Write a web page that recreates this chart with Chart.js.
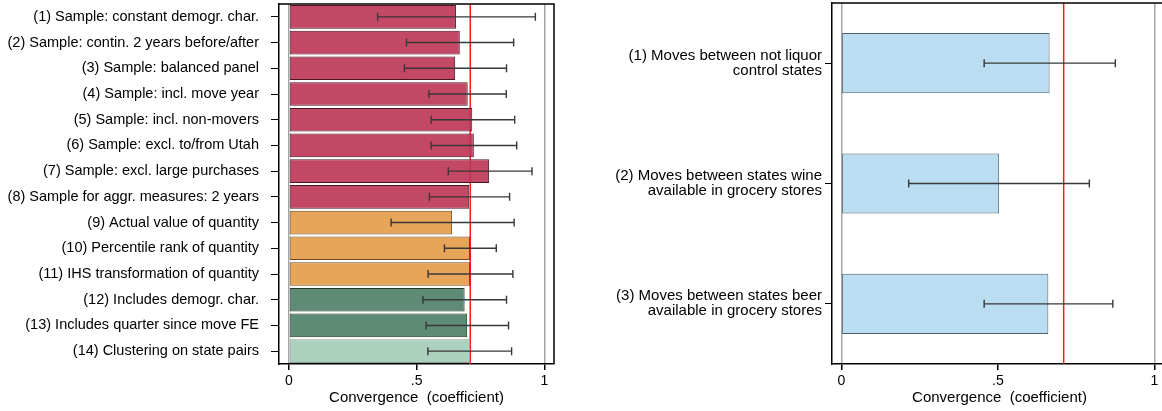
<!DOCTYPE html>
<html>
<head>
<meta charset="utf-8">
<script src="https://cdn.jsdelivr.net/npm/chart.js@4"></script>
<style>
  html, body { margin: 0; padding: 0; background: #fff; overflow: hidden; width: 1162px; height: 411px; }
  #left { position: absolute; left: 0; top: 0; }
  #right { position: absolute; left: 560px; top: 0; }
</style>
</head>
<body>
<canvas id="left" width="565" height="411"></canvas>
<canvas id="right" width="607" height="411"></canvas>
<script>
// robustness checks, left panel
const leftLabels = [
  '(1) Sample: constant demogr. char.',
  '(2) Sample: contin. 2 years before/after',
  '(3) Sample: balanced panel',
  '(4) Sample: incl. move year',
  '(5) Sample: incl. non-movers',
  '(6) Sample: excl. to/from Utah',
  '(7) Sample: excl. large purchases',
  '(8) Sample for aggr. measures: 2 years',
  '(9) Actual value of quantity',
  '(10) Percentile rank of quantity',
  '(11) IHS transformation of quantity',
  '(12) Includes demogr. char.',
  '(13) Includes quarter since move FE',
  '(14) Clustering on state pairs'
];
const leftCoef = [0.654, 0.669, 0.651, 0.700, 0.718, 0.724, 0.784, 0.706, 0.639, 0.709, 0.709, 0.688, 0.698, 0.707];
const leftLo   = [0.347, 0.460, 0.452, 0.548, 0.557, 0.557, 0.624, 0.550, 0.400, 0.609, 0.545, 0.525, 0.537, 0.544];
const leftHi   = [0.965, 0.880, 0.852, 0.851, 0.884, 0.892, 0.952, 0.864, 0.882, 0.812, 0.877, 0.852, 0.860, 0.872];
const leftGroup = ['s', 's', 's', 's', 's', 's', 's', 's', 'q', 'q', 'q', 'c', 'c', 'e'];

// heterogeneity by state policy, right panel
const rightLabels = [
  ['(1) Moves between not liquor', 'control states'],
  ['(2) Moves between states wine', 'available in grocery stores'],
  ['(3) Moves between states beer', 'available in grocery stores']
];
const rightCoef = [0.665, 0.504, 0.661];
const rightLo   = [0.456, 0.215, 0.456];
const rightHi   = [0.875, 0.792, 0.867];

const benchmark = 0.71;
const xTicks = [0, 0.5, 1];

const groupFill = { s: 'rgba(188,52,84,0.9)', q: 'rgba(230,160,80,0.95)', c: 'rgba(82,130,108,0.93)', e: 'rgba(170,205,188,0.97)' };
const groupLine = { s: '#4a1624', q: '#6b4a1e', c: '#27392f', e: '#8a9a92' };

Chart.defaults.font.family = '"Liberation Sans", Arial, Helvetica, sans-serif';
Chart.defaults.font.size = 13;
Chart.defaults.color = '#000';

const stataPlugin = {
  id: 'stata',
  beforeDatasetsDraw(chart, args, opts) {
    const { ctx, chartArea: a, scales } = chart;
    const x = scales.x.getPixelForValue(opts.benchmark);
    ctx.save();
    ctx.strokeStyle = '#ff1a1a';
    ctx.lineWidth = 1.5;
    ctx.beginPath();
    ctx.moveTo(x, a.top);
    ctx.lineTo(x, a.bottom);
    ctx.stroke();
    ctx.restore();
  },
  afterDatasetsDraw(chart, args, opts) {
    const { ctx, chartArea: a, scales } = chart;
    ctx.save();
    ctx.strokeStyle = '#383838';
    ctx.lineWidth = 1.4;
    opts.lo.forEach((lo, i) => {
      const y = scales.y.getPixelForValue(i);
      const x1 = scales.x.getPixelForValue(lo);
      const x2 = scales.x.getPixelForValue(opts.hi[i]);
      ctx.beginPath();
      ctx.moveTo(x1, y); ctx.lineTo(x2, y);
      ctx.moveTo(x1, y - opts.cap); ctx.lineTo(x1, y + opts.cap);
      ctx.moveTo(x2, y - opts.cap); ctx.lineTo(x2, y + opts.cap);
      ctx.stroke();
    });
    // box around plot region
    ctx.strokeStyle = '#000';
    ctx.lineWidth = 1.5;
    ctx.beginPath();
    ctx.moveTo(a.left, a.top); ctx.lineTo(a.right, a.top); ctx.lineTo(a.right, a.bottom);
    ctx.stroke();
    ctx.restore();
  }
};

function makeChart(id, labels, coef, lo, hi, fills, lines, o) {
  return new Chart(document.getElementById(id), {
    type: 'bar',
    data: {
      labels,
      datasets: [{
        data: coef,
        backgroundColor: fills,
        borderColor: lines,
        borderWidth: 1,
        borderSkipped: false,
        barPercentage: o.barPct,
        categoryPercentage: 1
      }]
    },
    options: {
      indexAxis: 'y',
      responsive: false,
      animation: false,
      layout: { padding: { top: o.top, right: o.right, left: 0, bottom: 0 } },
      plugins: {
        legend: { display: false },
        tooltip: { enabled: false },
        stata: { benchmark, lo, hi, cap: o.cap }
      },
      scales: {
        x: {
          min: o.xmin, max: o.xmax,
          afterBuildTicks: s => { s.ticks = xTicks.map(v => ({ value: v })); },
          afterFit: s => { s.height = 411 - o.bottom; s.paddingLeft = 0; s.paddingRight = 0; },
          ticks: { padding: 3, callback: v => (v === 0.5 ? '.5' : String(v)), font: { size: 14 } },
          grid: {
            color: c => (c.tick && c.tick.value === 0.5 ? 'rgba(0,0,0,0)' : '#a6a6a6'),
            tickColor: '#000',
            tickLength: 6,
            lineWidth: 1.5
          },
          border: { color: '#000', width: 1.5 },
          title: { display: true, text: 'Convergence  (coefficient)', font: { size: 15, lineHeight: 1 }, padding: { top: 0, bottom: 6 } }
        },
        y: {
          afterFit: s => { s.width = o.yw; s.paddingTop = 0; s.paddingBottom = 0; },
          ticks: { padding: o.tpad, autoSkip: false, font: { size: o.fs, lineHeight: 1 } },
          grid: { drawOnChartArea: false, offset: false, tickLength: o.tl, tickColor: '#000', lineWidth: 1 },
          border: { color: '#000', width: 1.5 }
        }
      }
    },
    plugins: [stataPlugin]
  });
}

makeChart('left', leftLabels, leftCoef, leftLo, leftHi,
  leftGroup.map(g => groupFill[g]), leftGroup.map(g => groupLine[g]),
  { barPct: 0.92, top: 4, right: 11, bottom: 364, yw: 279, tpad: 12, tl: 8, fs: 14.5, xmin: -0.039, xmax: 1.038, cap: 4 });

makeChart('right', rightLabels, rightCoef, rightLo, rightHi,
  'rgba(186,221,242,1)', '#4d5d6b',
  { barPct: 0.5, top: 3, right: 0, bottom: 364, yw: 272, tpad: 3, tl: 7, fs: 15, xmin: -0.03, xmax: 1.04, cap: 4 });
</script>
</body>
</html>
